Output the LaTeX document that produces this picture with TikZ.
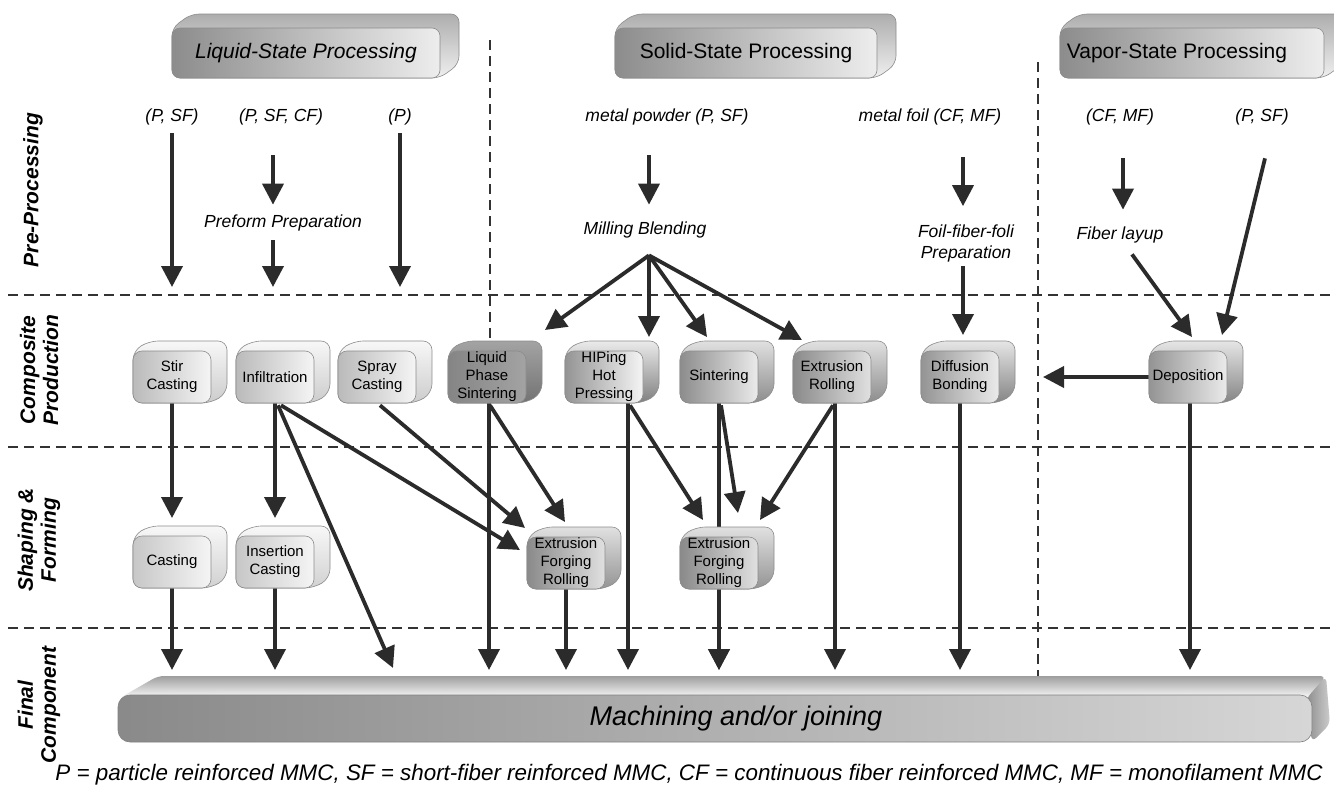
\documentclass[tikz,border=0pt]{standalone}
\usepackage{fontspec}
\setmainfont{Liberation Sans}
\usetikzlibrary{arrows.meta,calc,backgrounds}

\pgfdeclarelayer{paper}
\pgfsetlayers{paper,background,main}

\definecolor{ink}{HTML}{2B2B2B}

\tikzset{
  flow/.style={draw=ink, line width=3.8pt, -{Triangle[length=21pt,width=21pt]}},
  lane/.style={draw=black!80, line width=1.8pt, dash pattern=on 10pt off 6pt},
  lbl/.style={font=\fontsize{17.5}{21}\selectfont\itshape, inner sep=0pt, align=center},
  rowlbl/.style={font=\fontsize{21}{23}\selectfont\bfseries\itshape, rotate=90, inner sep=0pt, align=center},
  face/.style={rounded corners=9pt, draw=black!45, line width=0.6pt, minimum width=78pt,
    minimum height=52pt, inner sep=0pt, align=center, font=\fontsize{15}{18}\selectfont},
  hull/.style={rounded corners=9pt, draw=black!45, line width=0.6pt},
}

% small process block: name, centre, text, front left/right shade, side top/bottom shade
\newcommand\mmcbox[7]{%
  \coordinate (#1-c) at (#2);
  \path[hull, top color=#6, bottom color=#7]
    ($(#1-c)+(-39,-26)$) -- ($(#1-c)+(-23,-36)$) -- ($(#1-c)+(55,-36)$) --
    ($(#1-c)+(55,16)$) -- ($(#1-c)+(39,26)$) -- ($(#1-c)+(-39,26)$) -- cycle;
  \node[face, left color=#4, right color=#5] (#1) at (#1-c) {#3};
}

% stage header block: name, centre, half width, text
\newcommand\stagehead[4]{%
  \coordinate (#1-c) at (#2);
  \path[hull, rounded corners=8pt, top color=black!32, bottom color=black!6]
    ($(#1-c)+(-#3,-25)$) -- ($(#1-c)+(-#3+19,-39)$) -- ($(#1-c)+(#3+19,-39)$) --
    ($(#1-c)+(#3+19,11)$) -- ($(#1-c)+(#3,25)$) -- ($(#1-c)+(-#3,25)$) -- cycle;
  \node[rounded corners=8pt, draw=black!45, line width=0.6pt, minimum width=2*#3 pt,
    minimum height=50pt, inner sep=0pt, left color=black!45, right color=black!7,
    font=\fontsize{21}{24}\selectfont] (#1) at (#1-c) {#4};
}

\begin{document}
\begin{tikzpicture}[x=1pt,y=-1pt]
\clip (0,0) rectangle (1334,795);
\begin{pgfonlayer}{paper}
  \fill[white] (0,0) rectangle (1334,795);
\end{pgfonlayer}

% ---------- stage headers ----------
\stagehead{liq}{306,53}{134}{\itshape Liquid-State Processing}
\stagehead{sol}{746,53}{131}{Solid-State Processing}
\stagehead{vap}{1192,53}{132}{Vapor-State Processing\hspace*{30pt}}

% ---------- row titles ----------
\node[rowlbl] (rPre)   at (33,190) {Pre-Processing};
\node[rowlbl] (rComp)  at (39,370) {Composite\\Production};
\node[rowlbl] (rShape) at (39,540) {Shaping \&\\Forming};
\node[rowlbl] (rFinal) at (39,705) {Final\\Component};

% ---------- raw materials and preparation ----------
\node[lbl] (pSF1)  at (172,117)  {(P, SF)};
\node[lbl] (pSFCF) at (281,117)  {(P, SF, CF)};
\node[lbl] (pP)    at (400,117)  {(P)};
\node[lbl] (mpow)  at (667,117)  {metal powder (P, SF)};
\node[lbl] (mfoil) at (930,117)  {metal foil (CF, MF)};
\node[lbl] (cfmf)  at (1120,117) {(CF, MF)};
\node[lbl] (pSF2)  at (1262,117) {(P, SF)};
\node[lbl] (prep)  at (283,223)  {Preform Preparation};
\node[lbl] (mill)  at (645,230)  {Milling Blending};
\node[lbl] (foil)  at (966,243)  {Foil-fiber-foli\\Preparation};
\node[lbl] (fiber) at (1120,235) {Fiber layup};

% ---------- composite production ----------
\mmcbox{stir}{172,377}{Stir\\Casting}{black!27}{black!4}{black!3}{black!20}
\mmcbox{infil}{275,377}{Infiltration}{black!27}{black!4}{black!3}{black!20}
\mmcbox{spray}{377,377}{Spray\\Casting}{black!27}{black!4}{black!3}{black!20}
\mmcbox{lps}{487,377}{Liquid\\Phase\\Sintering}{black!48}{black!36}{black!36}{black!55}
\mmcbox{hip}{604,377}{HIPing\\Hot\\Pressing}{black!42}{black!4}{black!8}{black!50}
\mmcbox{sint}{719,377}{Sintering}{black!45}{black!8}{black!12}{black!45}
\mmcbox{extr}{832,377}{Extrusion\\Rolling}{black!46}{black!12}{black!12}{black!45}
\mmcbox{diff}{960,377}{Diffusion\\Bonding}{black!42}{black!8}{black!10}{black!48}
\mmcbox{depo}{1188,377}{Deposition}{black!42}{black!8}{black!10}{black!48}

% ---------- shaping and forming ----------
\mmcbox{cast}{172,562}{Casting}{black!22}{black!4}{black!3}{black!18}
\mmcbox{insc}{275,562}{Insertion\\Casting}{black!22}{black!4}{black!3}{black!18}
\mmcbox{efr1}{566,563}{Extrusion\\Forging\\Rolling}{black!46}{black!12}{black!12}{black!42}
\mmcbox{efr2}{719,563}{Extrusion\\Forging\\Rolling}{black!46}{black!12}{black!12}{black!42}

% ---------- final component bar ----------
\path[rounded corners=6pt, top color=black!38, bottom color=white]
  (118,699) -- (158,676) -- (1326,676) -- (1310,699) -- cycle;
\path[rounded corners=6pt, left color=black!45, right color=black!20]
  (1306,699) -- (1326,676) -- (1330,724) -- (1312,742) -- cycle;
\node[rounded corners=12pt, draw=black!50, line width=0.6pt, minimum width=1194pt,
  minimum height=47pt, inner sep=0pt, left color=black!46, right color=black!16,
  font=\fontsize{27}{30}\selectfont\itshape] (final) at (715,718.5)
  {\hspace*{42pt}Machining and/or joining};

% ---------- legend ----------
\node[font=\fontsize{22.4}{26}\selectfont\itshape, inner sep=0pt] (key) at (689,775)
  {P = particle reinforced MMC, SF = short-fiber reinforced MMC, CF = continuous fiber reinforced MMC, MF = monofilament MMC};

% free ends of connectors
\coordinate (stirIn)  at (172,287);
\coordinate (infIn)   at (273,287);
\coordinate (sprayIn) at (400,287);
\coordinate (depoOut) at (1043,377);
\coordinate (finalIn) at (0,670);
\coordinate (fan)     at ($(mill.south)+(4,17)$);
\coordinate (lpsS)    at ($(lps.south)+(2,0)$);
\coordinate (hipS)    at ($(hip.south)+(24,0)$);
\coordinate (extrS)   at ($(extr.south)+(3,0)$);
\coordinate (depoS)   at ($(depo.south)+(2,0)$);

\begin{scope}[on background layer]
  % lanes
  \draw[lane] (8,295) -- (1334,295);
  \draw[lane] (8,447) -- (1334,447);
  \draw[lane] (8,628) -- (1334,628);
  \draw[lane] (490,40) -- (490,340);
  \draw[lane] (1038,62) -- (1038,680);

  % pre-processing
  \draw[flow] ($(pSF1.south)+(0,8)$) -- (stirIn);
  \draw[flow] ($(pSFCF.south)+(-8,30)$) -- ($(prep.north)+(-10,-10)$);
  \draw[flow] ($(prep.south)+(-10,9)$) -- (infIn);
  \draw[flow] ($(pP.south)+(0,8)$) -- (sprayIn);
  \draw[flow] ($(mpow.south)+(-18,30)$) -- ($(mill.north)+(4,-17)$);
  \draw[flow] (fan) -- ($(lps.center)+(58,-47)$);
  \draw[flow] (fan) -- ($(hip.center)+(45,-40)$);
  \draw[flow] (fan) -- ($(sint.center)+(-12,-40)$);
  \draw[flow] (fan) -- ($(extr.center)+(-30,-37)$);
  \draw[flow] ($(mfoil.south)+(33,32)$) -- ($(foil.north)+(-3,-18)$);
  \draw[flow] ($(foil.south)+(-3,4)$) -- ($(diff.center)+(3,-42)$);
  \draw[flow] ($(cfmf.south)+(3,33)$) -- ($(fiber.north)+(3,-17)$);
  \draw[flow] ($(fiber.south)+(12,11)$) -- ($(depo.center)+(4,-40)$);
  \draw[flow] ($(pSF2.south)+(3,33)$) -- ($(depo.center)+(34,-42)$);
  \draw[flow] (depo.west) -- (depoOut);

  % composite production to shaping
  \draw[flow] (stir) -- ($(cast.center)+(0,-44)$);
  \draw[flow] (infil) -- ($(insc.center)+(0,-44)$);
  \draw[flow] ($(infil.south)+(3,2)$) -- (393,668);
  \draw[flow] ($(infil.south)+(6,2)$) -- ($(efr1.center)+(-46,-13)$);
  \draw[flow] ($(spray.south)+(3,2)$) -- ($(efr1.center)+(-41,-35)$);
  \draw[flow] ($(lps.south)+(3,2)$) -- ($(efr1.center)+(-1,-41)$);
  \draw[flow] ($(hip.south)+(26,2)$) -- ($(efr2.center)+(-16,-43)$);
  \draw[flow] ($(sint.south)+(2,2)$) -- ($(efr2.center)+(19,-50)$);
  \draw[flow] ($(extr.south)+(1,2)$) -- ($(efr2.center)+(41,-43)$);

  % into the final component
  \draw[flow] (cast) -- (cast |- finalIn);
  \draw[flow] (insc) -- (insc |- finalIn);
  \draw[flow] (lpsS) -- (lpsS |- finalIn);
  \draw[flow] (efr1) -- (efr1 |- finalIn);
  \draw[flow] (hipS) -- (hipS |- finalIn);
  \draw[flow] (sint) -- (sint |- finalIn);
  \draw[flow] (efr2) -- (efr2 |- finalIn);
  \draw[flow] (extrS) -- (extrS |- finalIn);
  \draw[flow] (diff) -- (diff |- finalIn);
  \draw[flow] (depoS) -- (depoS |- finalIn);
\end{scope}
\end{tikzpicture}
\end{document}
